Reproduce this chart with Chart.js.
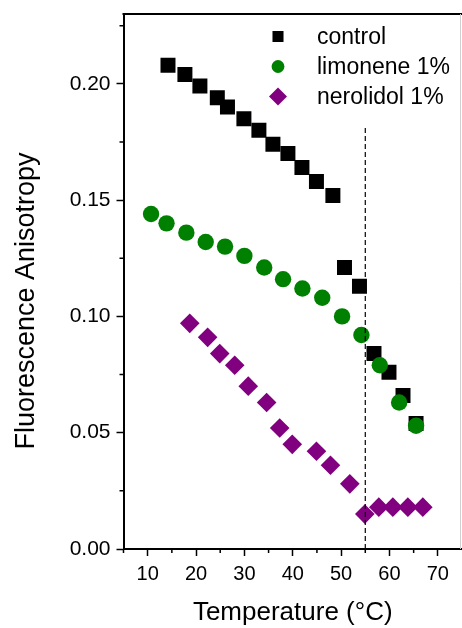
<!DOCTYPE html>
<html>
<head>
<meta charset="utf-8">
<script src="https://cdn.jsdelivr.net/npm/chart.js@4/dist/chart.umd.min.js"></script>
<style>
html,body{margin:0;padding:0;background:#fff;}
#wrap{width:462px;height:628px;}
</style>
</head>
<body>
<div id="wrap"><canvas id="c" width="462" height="628"></canvas></div>
<script>
// ---- data ----
const seriesLabels = ['control', 'limonene 1%', 'nerolidol 1%'];

const controlT = [14.2, 17.7, 20.8, 24.4, 26.5, 29.9, 33.0, 35.9, 39.0, 41.9, 44.9, 48.3, 50.7, 53.8, 56.8, 59.9, 62.8, 65.5];
const controlA = [0.208, 0.204, 0.199, 0.194, 0.190, 0.185, 0.180, 0.174, 0.170, 0.164, 0.158, 0.152, 0.121, 0.113, 0.084, 0.076, 0.066, 0.054];

const limonT = [10.7, 13.9, 18.0, 22.0, 26.0, 30.0, 34.1, 38.0, 42.0, 46.1, 50.2, 54.2, 58.0, 62.0, 65.5];
const limonA = [0.144, 0.140, 0.136, 0.132, 0.130, 0.126, 0.121, 0.116, 0.112, 0.108, 0.100, 0.092, 0.079, 0.063, 0.053];

const nerolT = [18.7, 22.4, 24.9, 28.0, 30.8, 34.6, 37.3, 39.9, 44.9, 47.8, 51.8, 54.9, 57.8, 60.7, 63.8, 66.9];
const nerolA = [0.097, 0.091, 0.084, 0.079, 0.070, 0.063, 0.052, 0.045, 0.042, 0.036, 0.028, 0.015, 0.018, 0.018, 0.018, 0.018];

const dividerT = [55, 55];
const dividerA = [0, 0.181];

const xTicks = [10, 20, 30, 40, 50, 60, 70];
const xMinorTicks = [5, 15, 25, 35, 45, 55, 65];
const yTicks = [0.00, 0.05, 0.10, 0.15, 0.20];
const yMinorTicks = [0.025, 0.075, 0.125, 0.175, 0.225];
const xRange = [5, 75];
const yRange = [0, 0.23];

const xTitle = 'Temperature (°C)';
const yTitle = 'Fluorescence Anisotropy';

// ---- build ----
const pts = (xs, ys) => xs.map((x, i) => ({x: x, y: ys[i]}));
const FONT = "'Liberation Sans', Arial, sans-serif";

const styles = [
  {color: '#000000', pointStyle: 'rect', radius: 10.6, legendRadius: 7.8},
  {color: '#008000', pointStyle: 'circle', radius: 8.2, legendRadius: 6.4},
  {color: '#800080', pointStyle: 'rectRot', radius: 9.8, legendRadius: 9}
];

const framePlugin = {
  id: 'frame',
  afterDraw(chart) {
    const ctx = chart.ctx, xs = chart.scales.x, ys = chart.scales.y, a = chart.chartArea;
    ctx.save();
    ctx.strokeStyle = '#000';
    ctx.lineWidth = 1.5;
    ctx.beginPath();
    xMinorTicks.forEach(v => { const p = xs.getPixelForValue(v); ctx.moveTo(p, a.bottom); ctx.lineTo(p, a.bottom + 4); });
    yMinorTicks.forEach(v => { const p = ys.getPixelForValue(v); ctx.moveTo(a.left, p); ctx.lineTo(a.left - 4, p); });
    ctx.stroke();
    ctx.lineWidth = 2;
    ctx.beginPath();
    ctx.moveTo(a.left - 1, a.top); ctx.lineTo(a.right, a.top);
    ctx.stroke();
    ctx.strokeStyle = '#d0d0d0';
    ctx.lineWidth = 1;
    ctx.beginPath();
    ctx.moveTo(a.right - 1.5, a.top); ctx.lineTo(a.right - 1.5, a.bottom);
    ctx.stroke();
    // y axis title
    ctx.fillStyle = '#000';
    ctx.font = '27px ' + FONT;
    ctx.textAlign = 'center';
    ctx.textBaseline = 'middle';
    ctx.translate(27, 301);
    ctx.rotate(-Math.PI / 2);
    ctx.fillText(yTitle, 0, 0);
    ctx.restore();
  }
};

const legendPlugin = {
  id: 'customLegend',
  afterDraw(chart) {
    const ctx = chart.ctx;
    ctx.save();
    const mx = 278, tx = 317, y0 = 36.5, dy = 30;
    ctx.font = '23px ' + FONT;
    ctx.textBaseline = 'middle';
    seriesLabels.forEach((lab, i) => {
      const y = y0 + i * dy;
      const s = styles[i];
      ctx.fillStyle = s.color;
      ctx.beginPath();
      const r = s.legendRadius;
      if (s.pointStyle === 'rect') {
        const h = r * Math.SQRT1_2;
        ctx.rect(mx - h, y - h, 2 * h, 2 * h);
      } else if (s.pointStyle === 'circle') {
        ctx.arc(mx, y, r, 0, Math.PI * 2);
      } else {
        ctx.moveTo(mx, y - r); ctx.lineTo(mx + r, y); ctx.lineTo(mx, y + r); ctx.lineTo(mx - r, y); ctx.closePath();
      }
      ctx.fill();
      ctx.fillStyle = '#000';
      ctx.fillText(lab, tx, y + 1);
    });
    ctx.restore();
  }
};

const seriesData = [pts(controlT, controlA), pts(limonT, limonA), pts(nerolT, nerolA)];
const datasets = seriesData.map((d, i) => ({
  label: seriesLabels[i],
  data: d,
  pointStyle: styles[i].pointStyle,
  pointRadius: styles[i].radius,
  pointHoverRadius: styles[i].radius,
  backgroundColor: styles[i].color,
  borderColor: styles[i].color,
  borderWidth: 0,
  showLine: false,
  order: 3 - i
}));
datasets.push({
  label: 'divider',
  data: pts(dividerT, dividerA),
  showLine: true,
  borderColor: '#000',
  borderWidth: 1.2,
  borderDash: [5, 3],
  pointRadius: 0,
  order: 0
});

const zeroPad = s => { s.paddingLeft = 0; s.paddingRight = 0; s.paddingTop = 0; s.paddingBottom = 0; };

new Chart(document.getElementById('c'), {
  type: 'scatter',
  data: {datasets},
  options: {
    responsive: false,
    animation: false,
    devicePixelRatio: 1,
    layout: {autoPadding: false, padding: {top: 14, right: 0, left: 0, bottom: 0}},
    plugins: {legend: {display: false}, tooltip: {enabled: false}},
    scales: {
      x: {
        type: 'linear',
        min: xRange[0], max: xRange[1],
        afterBuildTicks: s => { s.ticks = xTicks.map(v => ({value: v})); },
        afterFit: s => { s.height = 79; zeroPad(s); },
        grid: {drawOnChartArea: false, drawTicks: true, tickLength: 7, tickColor: '#000', tickWidth: 1.5},
        border: {display: true, color: '#000', width: 2},
        ticks: {color: '#000', font: {family: FONT, size: 20}, padding: 6, maxRotation: 0, callback: v => String(v)},
        title: {display: true, text: xTitle, color: '#000', font: {family: FONT, size: 26}, padding: {top: 3, bottom: 0}}
      },
      y: {
        type: 'linear',
        min: yRange[0], max: yRange[1],
        afterBuildTicks: s => { s.ticks = yTicks.map(v => ({value: v})); },
        afterFit: s => { s.width = 123.5; zeroPad(s); },
        grid: {drawOnChartArea: false, drawTicks: true, tickLength: 7, tickColor: '#000', tickWidth: 1.5},
        border: {display: true, color: '#000', width: 2},
        ticks: {color: '#000', font: {family: FONT, size: 21}, padding: 6, callback: v => v.toFixed(2)},
        title: {display: false}
      }
    }
  },
  plugins: [framePlugin, legendPlugin]
});
</script>
</body>
</html>
